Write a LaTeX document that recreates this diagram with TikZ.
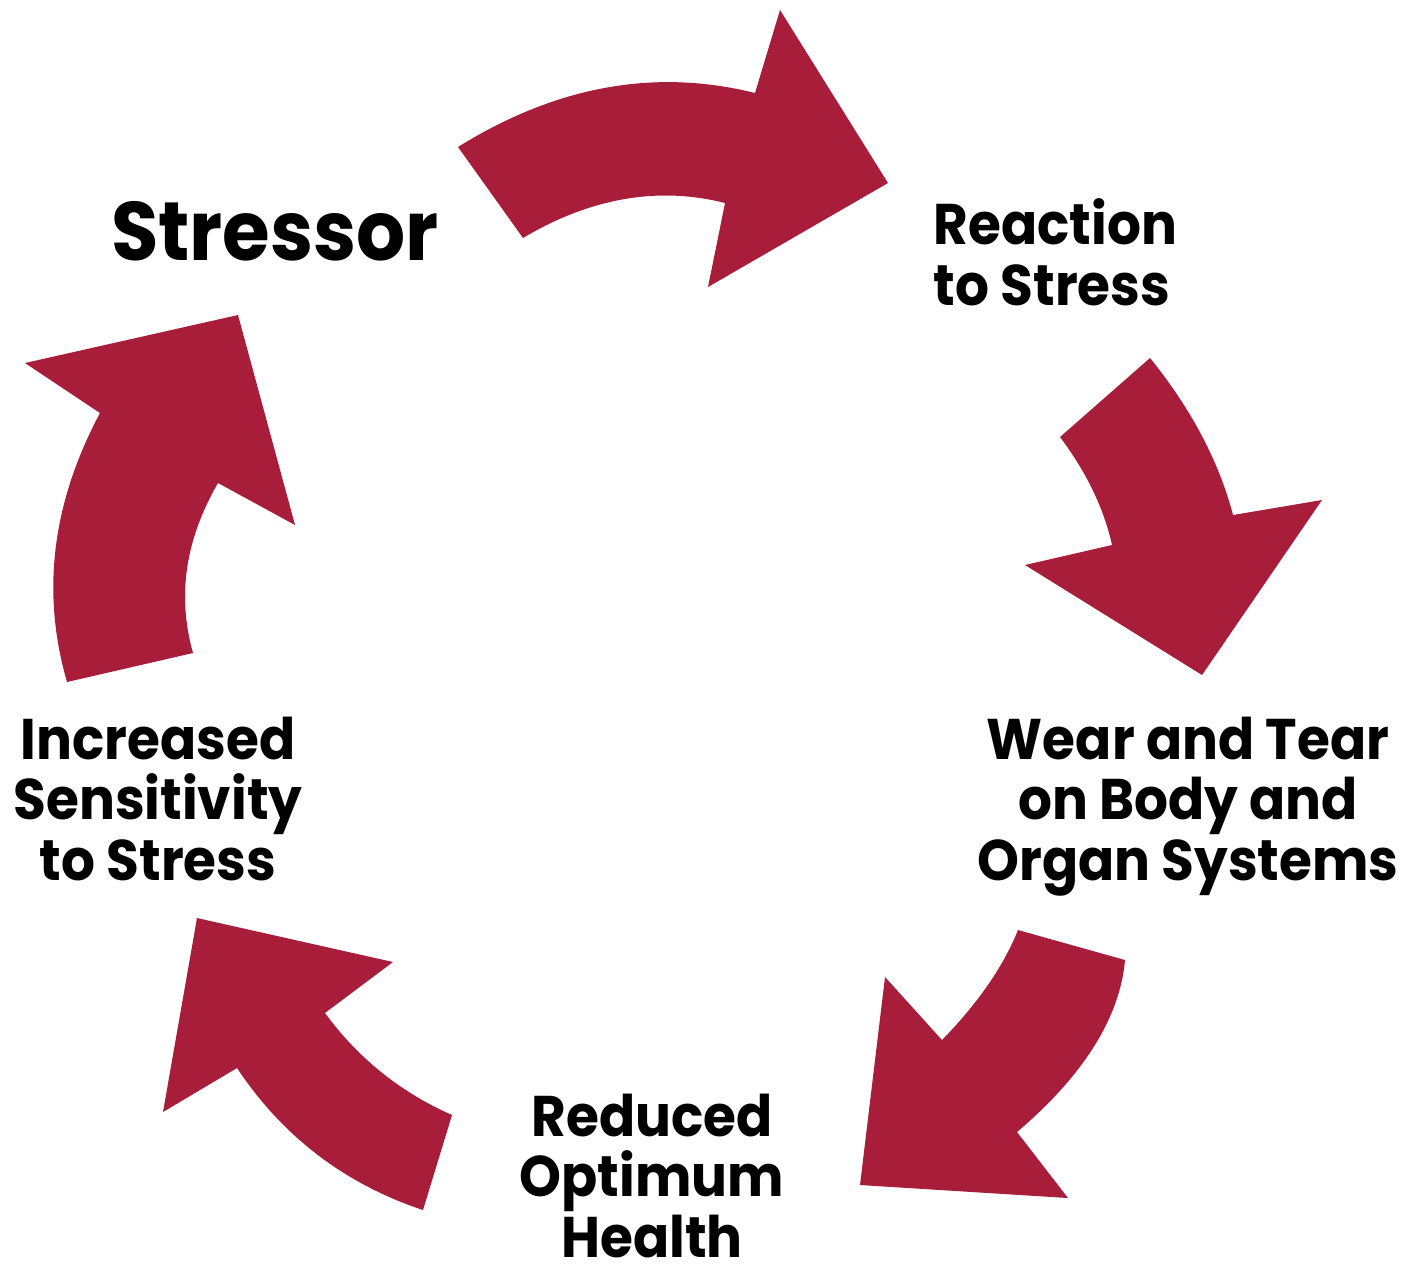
\documentclass[tikz,border=0pt]{standalone}
\usepackage{fontspec}
\setmainfont{Poppins}[FakeStretch=0.93]
\usepackage{tikz}
\definecolor{cred}{RGB}{167,29,58}

\begin{document}
\begin{tikzpicture}[x=0.01cm,y=-0.01cm,
  cycle arrow/.style={fill=cred,draw=none},
  main node/.style={font=\bfseries\fontsize{23.6}{28}\selectfont,inner sep=0pt},
  others node/.style={font=\bfseries\fontsize{16.3}{17.1}\selectfont,inner sep=0pt,align=center}]
  \useasboundingbox (0,0) rectangle (1410,1278);

  \node[main node,anchor=base] (1) at (275,260) {Stressor};
  \node[others node,anchor=base west,align=left] (2) at (933,305) {Reaction\\to Stress};
  \node[others node,anchor=base] (3) at (1188,880) {Wear and Tear\\on Body and\\Organ Systems};
  \node[others node,anchor=base] (4) at (652,1257) {Reduced\\Optimum\\Health};
  \node[others node,anchor=base] (5) at (158,880) {Increased\\Sensitivity\\to Stress};

  \fill[cycle arrow] (458,147) .. controls (556,86) and (655,68) .. (755,93) -- (780,10) -- (888,183)
    -- (708,287) -- (725,203) .. controls (658,186) and (590,198) .. (523,238) -- cycle;
  \fill[cycle arrow] (1150,358) .. controls (1192,410) and (1219,462) .. (1233,515) -- (1322,500) -- (1202,675)
    -- (1025,565) -- (1112,545) .. controls (1104,509) and (1087,473) .. (1060,437) -- cycle;
  \fill[cycle arrow] (1125,960) .. controls (1120,1017) and (1084,1075) .. (1017,1132) -- (1068,1198) -- (860,1185)
    -- (885,977) -- (942,1040) .. controls (978,1003) and (1003,967) .. (1018,930) -- cycle;
  \fill[cycle arrow] (423,1210) -- (452,1115) .. controls (400,1092) and (358,1058) .. (325,1013) -- (393,962)
    -- (197,918) -- (163,1112) -- (237,1068) .. controls (283,1137) and (345,1184) .. cycle;
  \fill[cycle arrow] (67,682) -- (193,653) .. controls (177,596) and (185,540) .. (218,483) -- (295,525)
    -- (238,315) -- (25,363) -- (100,413) .. controls (52,503) and (41,592) .. cycle;
\end{tikzpicture}
\end{document}
